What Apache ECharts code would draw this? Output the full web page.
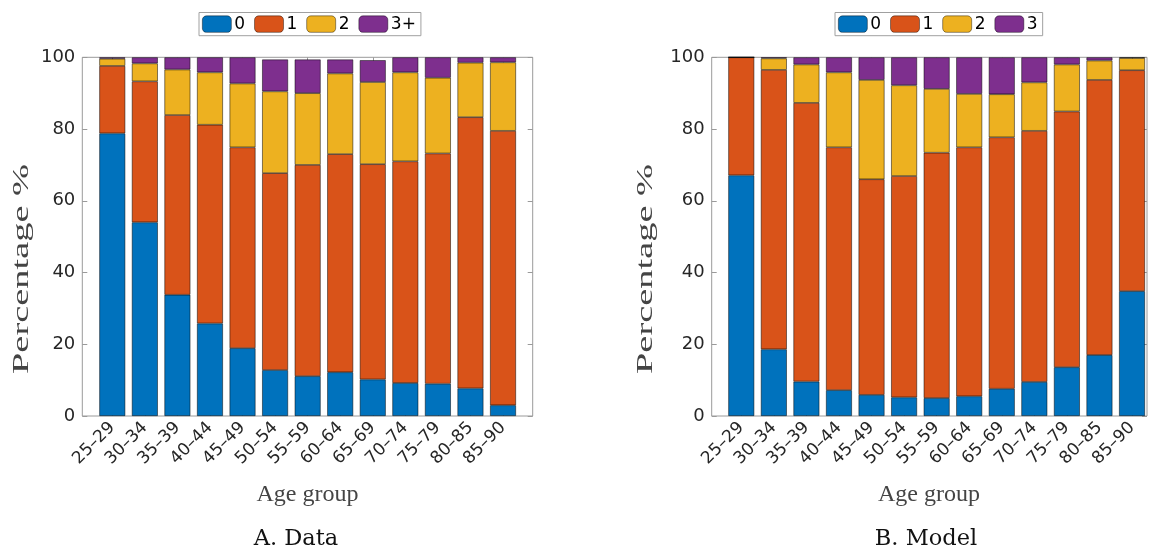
<!DOCTYPE html>
<html>
<head>
<meta charset="utf-8">
<script src="https://cdn.jsdelivr.net/npm/echarts@6/dist/echarts.min.js"></script>
<style>
html,body{margin:0;padding:0;background:#fff;}
#c{width:1152px;height:551px;}
</style>
</head>
<body>
<div id="c"></div>
<script>
const categories = ['25–29','30–34','35–39','40–44','45–49','50–54','55–59','60–64','65–69','70–74','75–79','80–85','85–90'];
const yTicks = [0, 20, 40, 60, 80, 100];

// Panel A: Data
const dataA0 = [78.8, 54.0, 33.8, 25.8, 18.9, 12.8, 11.1, 12.2, 10.2, 9.2, 9.0, 7.7, 3.0];
const dataA1 = [18.8, 39.3, 50.1, 55.4, 56.0, 54.9, 58.9, 60.8, 60.0, 61.8, 64.2, 75.6, 76.5];
const dataA2 = [2.0, 5.0, 12.7, 14.6, 17.8, 22.8, 20.0, 22.5, 22.9, 24.8, 21.1, 15.2, 19.1];
const dataA3 = [0.4, 1.7, 3.4, 4.2, 7.3, 8.9, 9.4, 3.9, 6.1, 4.2, 5.7, 1.5, 1.4];

// Panel B: Model
const dataB0 = [67.1, 18.6, 9.6, 7.2, 5.9, 5.2, 5.0, 5.5, 7.6, 9.5, 13.6, 17.0, 34.8];
const dataB1 = [32.9, 77.9, 77.7, 67.7, 60.1, 61.7, 68.4, 69.4, 70.1, 70.0, 71.3, 76.7, 61.6];
const dataB2 = [0.0, 3.2, 10.7, 20.9, 27.7, 25.3, 17.8, 14.9, 12.0, 13.5, 13.1, 5.4, 3.4];
const dataB3 = [0.0, 0.3, 2.0, 4.2, 6.3, 7.8, 8.8, 10.2, 10.3, 7.0, 2.0, 0.9, 0.2];

const legendA = ['0', '1', '2', '3+'];
const legendB = ['0', '1', '2', '3'];
const colors = ['#0072BD', '#D95319', '#EDB120', '#7E2F8E'];

const axisGray = '#9a9a9a';
const textCol = '#262626';
const TOP = 57.3, HEIGHT = 358.7;

// outer (frame) grid + inner (bar) grid per panel
const grids = [
  { left: 82.3, top: TOP, width: 450.4, height: HEIGHT, show: true, borderColor: axisGray, borderWidth: 1, backgroundColor: '#fff' },
  { left: 96.0, top: TOP, width: 423.3, height: HEIGHT },
  { left: 711.7, top: TOP, width: 435.3, height: HEIGHT, show: true, borderColor: axisGray, borderWidth: 1, backgroundColor: '#fff' },
  { left: 725.0, top: TOP, width: 423.3, height: HEIGHT }
];

function frameX(gridIndex) {
  return { type: 'value', gridIndex, min: 0, max: 1, show: false };
}
function barX(gridIndex, position, labels) {
  return {
    type: 'category', gridIndex, data: categories, position,
    axisLine: { show: false }, splitLine: { show: false },
    axisTick: { show: true, inside: true, length: 5, alignWithLabel: true, lineStyle: { color: axisGray } },
    axisLabel: labels ? { show: true, rotate: 45, margin: 9, interval: 0, fontFamily: 'DejaVu Sans', fontSize: 17, color: textCol } : { show: false }
  };
}
function frameY(gridIndex, position, labels) {
  return {
    type: 'value', gridIndex, min: 0, max: 100, interval: 20, position,
    axisLine: { show: false }, splitLine: { show: false },
    axisTick: { show: true, inside: true, length: 5, lineStyle: { color: axisGray } },
    axisLabel: labels ? { margin: 7, fontFamily: 'DejaVu Sans', fontSize: 18, color: textCol } : { show: false }
  };
}
function barY(gridIndex) {
  return { type: 'value', gridIndex, min: 0, max: 100, interval: 20, show: false, splitLine: { show: false } };
}

const xAxis = [
  frameX(0), barX(1, 'bottom', true), barX(1, 'top', false),
  frameX(2), barX(3, 'bottom', true), barX(3, 'top', false)
];
const yAxis = [
  frameY(0, 'left', true), frameY(0, 'right', false), barY(1),
  frameY(2, 'left', true), frameY(2, 'right', false), barY(3)
];

function makeSeries(names, arrays, xi, yi, stackName) {
  return arrays.map((arr, k) => ({
    type: 'bar', name: names[k], stack: stackName,
    xAxisIndex: xi, yAxisIndex: yi,
    barWidth: 26,
    data: arr,
    itemStyle: { color: colors[k], borderColor: 'rgba(0,0,0,0.7)', borderWidth: 0.7 },
    emphasis: { disabled: true }
  }));
}

const legendCommon = {
  orient: 'horizontal', itemWidth: 29, itemHeight: 16.5, itemGap: 9,
  borderColor: '#a0a0a0', borderWidth: 1, backgroundColor: '#fff',
  padding: [3, 5, 3, 3],
  textStyle: { fontFamily: 'DejaVu Sans', fontSize: 17, color: '#000', padding: [0, 0, 0, -2] },
  itemStyle: { borderColor: 'rgba(0,0,0,0.6)', borderWidth: 0.7 },
  selectedMode: false
};

const serifFont = 'Liberation Serif';
const yTitleStyle = { text: 'Percentage %', fontFamily: serifFont, fontSize: 24, fill: '#444', align: 'center', verticalAlign: 'middle' };
const option = {
  animation: false,
  color: colors,
  grid: grids,
  xAxis, yAxis,
  legend: [
    Object.assign({}, legendCommon, { data: legendA, left: 199, top: 12.5 }),
    Object.assign({}, legendCommon, { data: legendB, left: 835, top: 12.5 })
  ],
  series: [
    ...makeSeries(legendA, [dataA0, dataA1, dataA2, dataA3], 1, 2, 'A'),
    ...makeSeries(legendB, [dataB0, dataB1, dataB2, dataB3], 4, 5, 'B')
  ],
  graphic: [
    { type: 'text', x: 22, y: 269, rotation: Math.PI / 2, scaleX: 1.6, style: yTitleStyle },
    { type: 'text', x: 646, y: 269, rotation: Math.PI / 2, scaleX: 1.6, style: yTitleStyle },
    { type: 'text', x: 307.5, y: 495, style: { text: 'Age group', fontFamily: serifFont, fontSize: 24, fill: '#444', align: 'center', verticalAlign: 'middle' } },
    { type: 'text', x: 929, y: 495, style: { text: 'Age group', fontFamily: serifFont, fontSize: 24, fill: '#444', align: 'center', verticalAlign: 'middle' } },
    { type: 'text', x: 296, y: 539, style: { text: 'A. Data', fontFamily: 'DejaVu Serif', fontSize: 22.5, fill: '#111', align: 'center', verticalAlign: 'middle' } },
    { type: 'text', x: 926, y: 539, style: { text: 'B. Model', fontFamily: 'DejaVu Serif', fontSize: 22.5, fill: '#111', align: 'center', verticalAlign: 'middle' } }
  ]
};

const chart = echarts.init(document.getElementById('c'), null, { renderer: 'canvas' });
chart.setOption(option);
</script>
</body>
</html>
